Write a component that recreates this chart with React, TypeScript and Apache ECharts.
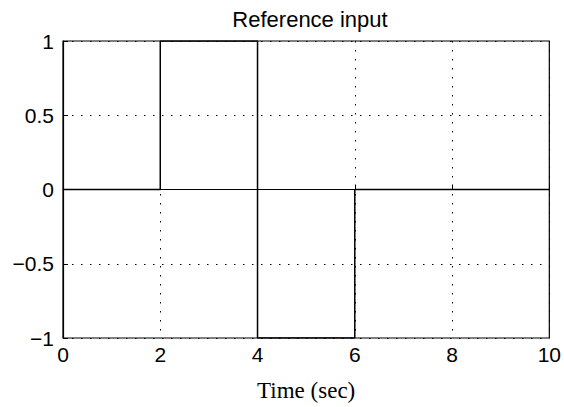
import React, { useEffect, useRef } from "react";
import * as echarts from "echarts";

const times = [0, 2, 4, 6, 10];
const values = [0, 1, -1, 0, 0];
const xTicks = [0, 2, 4, 6, 8, 10];
const yTicks = [-1, -0.5, 0, 0.5, 1];
const title = "Reference input";
const xName = "Time (sec)";

const tickFont = "'Liberation Sans', Arial, sans-serif";

export default function App() {
  const ref = useRef<HTMLDivElement>(null);
  useEffect(() => {
    if (!ref.current) return;
    const chart = echarts.init(ref.current, null, { renderer: "svg" });
    const fmt = (v: number) => String(v).replace("-", "\u2212");
    chart.setOption({
      animation: false,
      backgroundColor: "#fff",
      title: {
        text: title,
        left: 305,
        textAlign: "center",
        top: 3,
        textStyle: { fontFamily: "'Liberation Sans', Arial, sans-serif", fontSize: 22, fontWeight: "normal", color: "#000" },
      },
      grid: { left: 63, right: 14, top: 41, bottom: 63, show: true, borderColor: "#000", borderWidth: 1.2, backgroundColor: "#fff" },
      xAxis: {
        type: "value",
        min: xTicks[0],
        max: xTicks[xTicks.length - 1],
        interval: 2,
        name: xName,
        nameLocation: "middle",
        nameGap: 41,
        nameTextStyle: { fontFamily: "'Liberation Serif', 'Times New Roman', serif", fontSize: 23, color: "#000" },
        axisLine: { lineStyle: { color: "#000", width: 1.2 } },
        axisTick: { inside: true, length: 5, lineStyle: { color: "#000" } },
        axisLabel: { color: "#000", fontSize: 21, fontFamily: tickFont, margin: 6, formatter: fmt },
        splitLine: { show: true, lineStyle: { color: "#000", width: 1, type: [1.5, 7.5] } },
      },
      yAxis: {
        type: "value",
        min: yTicks[0],
        max: yTicks[yTicks.length - 1],
        interval: 0.5,
        axisLine: { lineStyle: { color: "#000", width: 1.2 } },
        axisTick: { inside: true, length: 5, lineStyle: { color: "#000" } },
        axisLabel: { color: "#000", fontSize: 21, fontFamily: tickFont, margin: 9, formatter: fmt },
        splitLine: { show: true, lineStyle: { color: "#000", width: 1, type: [1.5, 7.5] } },
      },
      series: [
        {
          type: "line",
          step: "end",
          data: times.map((t, i) => [t, values[i]]),
          showSymbol: false,
          lineStyle: { color: "#000", width: 1.5 },
          z: 5,
        },
      ],
    });
    return () => chart.dispose();
  }, []);
  return <div ref={ref} style={{ position: "fixed", left: 0, top: 0, width: 564, height: 407 }} />;
}
